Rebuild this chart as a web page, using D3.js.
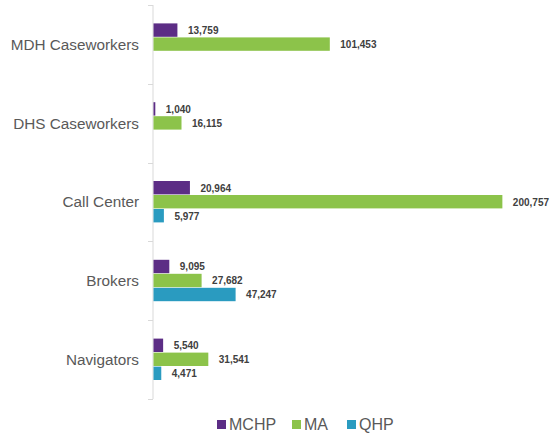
<!DOCTYPE html>
<html>
<head>
<meta charset="utf-8">
<script src="https://cdn.jsdelivr.net/npm/d3@7"></script>
<style>
  html, body { margin: 0; padding: 0; background: #fff; }
  svg { display: block; font-family: "Liberation Sans", Arial, sans-serif; }
</style>
</head>
<body>
<svg id="chart" width="552" height="435"></svg>
<script>
// Contacts by channel and program
const categories = ["MDH Caseworkers", "DHS Caseworkers", "Call Center", "Brokers", "Navigators"];
const seriesNames = ["MCHP", "MA", "QHP"];
const mchp = [13759, 1040, 20964, 9095, 5540];
const ma = [101453, 16115, 200757, 27682, 31541];
const qhp = [null, null, 5977, 47247, 4471];
const colors = ["#5c2d85", "#8cc34a", "#2a9bc0"];

const seriesValues = [mchp, ma, qhp];

const svg = d3.select("#chart");

const plot = { left: 153, right: 544, top: 5, bottom: 399 };

const x = d3.scaleLinear().domain([0, 225000]).range([plot.left, plot.right]);
const y = d3.scaleBand().domain(categories).range([plot.top, plot.bottom]).paddingInner(0).paddingOuter(0);

const barH = 14;
const groupH = barH * seriesNames.length;

// Category axis with tick marks between groups
const axisG = svg.append("g");
axisG.append("line")
  .attr("x1", plot.left).attr("x2", plot.left)
  .attr("y1", plot.top).attr("y2", plot.bottom)
  .attr("stroke", "#d9d9d9").attr("stroke-width", 1);

const boundaries = categories.map(c => y(c)).concat([y.range()[1]]);
axisG.selectAll("line.tick")
  .data(boundaries)
  .join("line")
  .attr("class", "tick")
  .attr("x1", plot.left - 5).attr("x2", plot.left)
  .attr("y1", d => Math.round(d) + 0.5).attr("y2", d => Math.round(d) + 0.5)
  .attr("stroke", "#d9d9d9").attr("stroke-width", 1);

axisG.selectAll("text.cat")
  .data(categories)
  .join("text")
  .attr("class", "cat")
  .attr("x", plot.left - 14)
  .attr("y", d => y(d) + y.bandwidth() / 2)
  .attr("dy", "0.35em")
  .attr("text-anchor", "end")
  .attr("font-size", 15.3)
  .attr("fill", "#595959")
  .text(d => d);

// Bars and value labels
const fmt = d3.format(",");
seriesNames.forEach((name, si) => {
  const rows = categories.map((c, i) => ({ c, v: seriesValues[si][i] })).filter(d => d.v != null);
  const g = svg.append("g");
  g.selectAll("rect")
    .data(rows)
    .join("rect")
    .attr("x", x(0) + 0.5)
    .attr("y", d => y(d.c) + y.bandwidth() / 2 - groupH / 2 + si * barH)
    .attr("width", d => x(d.v) - x(0))
    .attr("height", barH - 0.6)
    .attr("fill", colors[si]);
  g.selectAll("text")
    .data(rows)
    .join("text")
    .attr("x", d => x(d.v) + 11)
    .attr("y", d => y(d.c) + y.bandwidth() / 2 - groupH / 2 + si * barH + barH / 2)
    .attr("dy", "0.35em")
    .attr("font-size", 10)
    .attr("font-weight", "bold")
    .attr("fill", "#404040")
    .text(d => fmt(d.v));
});

// Legend
const legendX = [217, 292, 347];
const legend = svg.append("g");
seriesNames.forEach((name, i) => {
  legend.append("rect")
    .attr("x", legendX[i]).attr("y", 420)
    .attr("width", 9).attr("height", 9)
    .attr("fill", colors[i]);
  legend.append("text")
    .attr("x", legendX[i] + 12).attr("y", 424.5)
    .attr("dy", "0.35em")
    .attr("font-size", 16)
    .attr("fill", "#595959")
    .text(name);
});
</script>
</body>
</html>
